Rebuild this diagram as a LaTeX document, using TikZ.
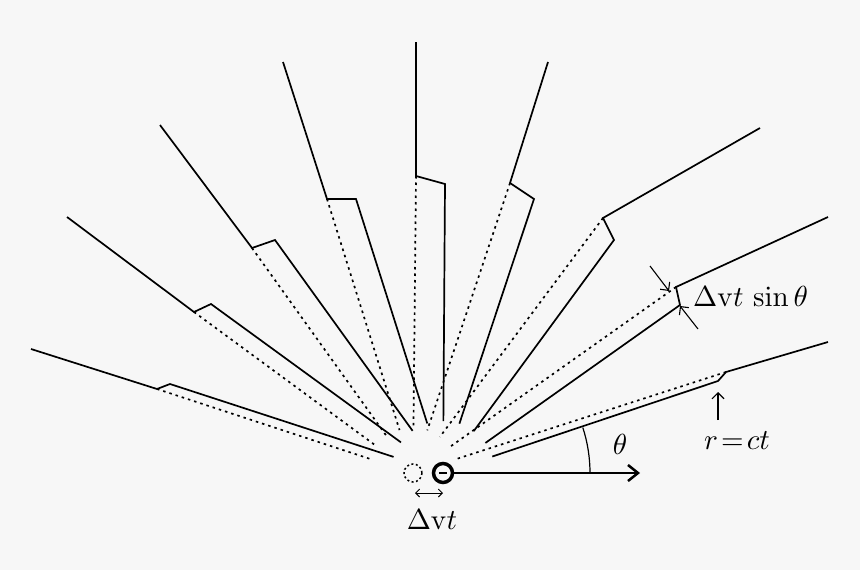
\documentclass[tikz,border=0pt]{standalone}
\usetikzlibrary{calc,arrows.meta}
\newcommand{\biglab}[1]{\scalebox{2.9}{#1}}
\begin{document}
\begin{tikzpicture}[x=1pt,y=-1pt,
  sol/.style={line width=1.7pt},
  dot/.style={line width=1.7pt,dash pattern=on 2.5pt off 4pt},
  lab/.style={inner sep=0pt}]
\useasboundingbox[fill=white!97!black] (0,0) rectangle (860,570);
\coordinate (O) at (413,473);
\coordinate (P) at (443,473);
% outer end, kink outer, kink inner
\foreach \ex/\ey/\kx/\ky/\ix/\iy [count=\n] in {
  828/342/726/372/718/381,
  828/217/676/287/680/305,
  760/128/603/218/614/240,
  548/62/510/183/534/199,
  416/42/416/176/445/184,
  283/62/327/199/356/199,
  160/125/252/248/275/240,
  67/217/194/312/211/304,
  31/349/157/389/170/384}{
  \coordinate (e\n) at (\ex,\ey); \coordinate (k\n) at (\kx,\ky); \coordinate (i\n) at (\ix,\iy);
  \draw[sol] (e\n) -- (k\n) -- (i\n) -- ($(P)!52pt!(i\n)$);
  \draw[dot] (k\n) -- ($(O)!45pt!(k\n)$);
}
\draw[line width=1.5pt,dash pattern=on 2pt off 2.5pt] (O) circle (9);
\node[circle,draw,line width=3.5pt,minimum size=19pt,inner sep=0pt] (q) at (P) {};
\draw[line width=2.5pt] ($(P)+(-4,0)$) -- ($(P)+(4,0)$);
\coordinate (tip) at (640,473);
\draw[line width=2.5pt,-{Straight Barb[length=10pt,width=16pt]}] (q.east) -- (tip);
\draw[line width=1.2pt] ($(P)+(147,0)$) arc[start angle=0,end angle=-18,radius=147];
\node[lab] (th) at (620,444) {\biglab{$\theta$}};
\draw[line width=0.9pt,{Straight Barb[length=4pt]}-{Straight Barb[length=4pt]}] (415,493) -- (443,493);
\node[lab] (dv) at (432,520) {\biglab{$\Delta\mathrm{v}t$}};
\node[lab,anchor=west] (ds) at (693,296) {\biglab{$\Delta\mathrm{v}t\,\sin\theta$}};
\coordinate (a1) at (650,266); \coordinate (a2) at (669,291);
\coordinate (b1) at (698,329); \coordinate (b2) at (680,306);
\draw[line width=1.1pt,-{Straight Barb[length=6pt]}] (a1) -- (a2);
\draw[line width=1.1pt,-{Straight Barb[length=6pt]}] (b1) -- (b2);
\node[lab] (rc) at (737,441) {\biglab{$r\!=\!ct$}};
\coordinate (r1) at (718,420); \coordinate (r2) at (718,392);
\draw[line width=1.1pt,-{Straight Barb[length=6pt]}] (r1) -- (r2);
\end{tikzpicture}
\end{document}
